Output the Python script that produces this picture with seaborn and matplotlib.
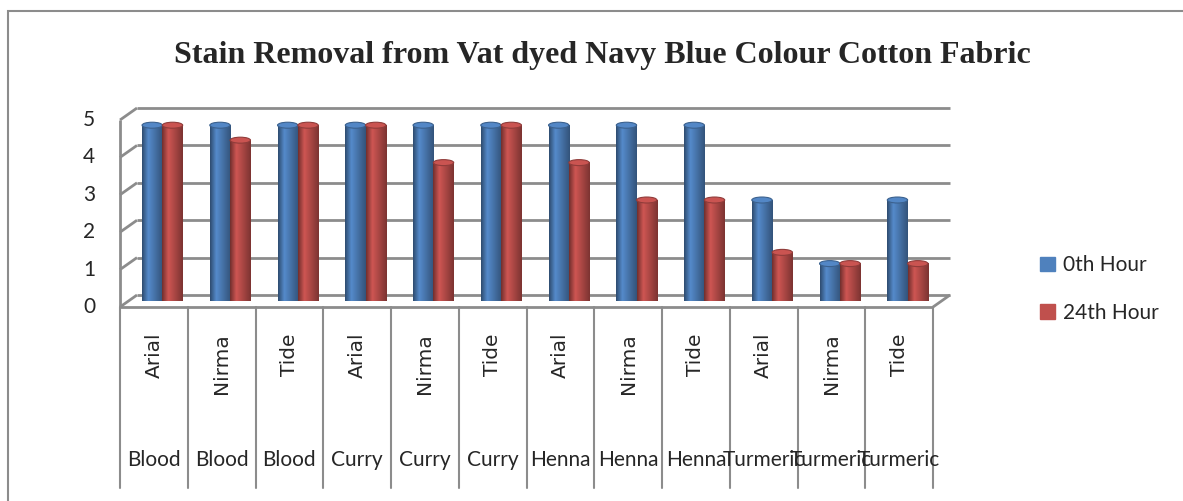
#!/usr/bin/env python3
"""
Stain removal chart - vat dyed navy blue cotton fabric.
Bar chart (Excel 3D cylinder look) of grades at 0th and 24th hour.
"""

import numpy as np
import pandas as pd
import matplotlib
matplotlib.use('Agg')
import matplotlib.pyplot as plt
from matplotlib.patches import Rectangle, Ellipse
import seaborn as sns

# data
stains = ['Blood', 'Blood', 'Blood', 'Curry', 'Curry', 'Curry',
          'Henna', 'Henna', 'Henna', 'Turmeric', 'Turmeric', 'Turmeric']
detergents = ['Arial', 'Nirma', 'Tide'] * 4
hour0 = [4.7, 4.7, 4.7, 4.7, 4.7, 4.7, 4.7, 4.7, 4.7, 2.7, 1.0, 2.7]
hour24 = [4.7, 4.3, 4.7, 4.7, 3.7, 4.7, 3.7, 2.7, 2.7, 1.3, 1.0, 1.0]
series = ['0th Hour', '24th Hour']
yticks = [0, 1, 2, 3, 4, 5]

BLUE = '#4F81BD'
RED = '#C0504D'
GRID = '#8C8C8C'

W, H, DPI = 1183, 501, 100
sns.set_style('white')
plt.rcParams['font.family'] = ['Lato', 'DejaVu Sans']

fig = plt.figure(figsize=(W / DPI, H / DPI), dpi=DPI)

# the axes is the middle depth plane of the fake 3D box
n = len(stains)
px_x = 813 / n          # pixels per category
px_y = 37.4             # pixels per unit
ax = fig.add_axes([128.5 / W, (H - 301) / H, 813 / W, 187 / H])
DX = 8.5 / px_x         # half depth in data units
DY = 6.0 / px_y

df = pd.DataFrame({
    'cat': list(range(n)) * 2,
    'value': hour0 + hour24,
    'hour': [series[0]] * n + [series[1]] * n,
})
labels = [f'{s}|{d}|{i}' for i, (s, d) in enumerate(zip(stains, detergents))]
df['label'] = [labels[i] for i in df['cat']]

sns.barplot(data=df, x='label', y='value', hue='hour', order=labels,
            palette=[BLUE, RED], width=0.6, gap=0, saturation=1,
            legend=False, ax=ax, zorder=3)

# cylinder shading and caps
shade = np.concatenate([np.linspace(0.6, 1.06, 10), np.linspace(1.06, 0.65, 22)])
for p in list(ax.patches):
    x0, w, h = p.get_x(), p.get_width(), p.get_height()
    if h <= 0:
        continue
    base = np.array(matplotlib.colors.to_rgb(p.get_facecolor()))
    rgb = np.clip(base[None, :] * shade[:, None], 0, 1)
    img = np.tile(rgb[None, :, :], (2, 1, 1))
    ax.imshow(img, extent=[x0, x0 + w, 0, h], aspect='auto', zorder=3.1,
              clip_path=p, clip_on=True)
    top = np.clip(base * 1.05, 0, 1)
    ax.add_patch(Ellipse((x0 + w / 2, h), w, 0.16, facecolor=top,
                         edgecolor=np.clip(base * 0.75, 0, 1), lw=0.8, zorder=3.2))
    p.set_edgecolor('none')

ax.set_xlim(-0.5, n - 0.5)
ax.set_ylim(0, 5)
ax.set_xticks([])
ax.set_yticks([])
ax.set_xlabel('')
ax.set_ylabel('')
for s in ax.spines.values():
    s.set_visible(False)

lk = dict(color=GRID, lw=2, clip_on=False, zorder=1, solid_capstyle='butt')
left, right = -0.5, n - 0.5
# back wall gridlines and left wall
for v in yticks:
    ax.plot([left + DX, right + DX], [v + DY, v + DY], **lk)
    ax.plot([left - DX, left + DX], [v - DY, v + DY], **lk)
    ax.text(left - DX - 25 / px_x, v - DY, str(v), ha='right', va='center',
            fontsize=15, clip_on=False)
ax.plot([left - DX, left - DX], [-DY, 5 - DY], **lk)
# floor front edge and right side
ax.plot([left - DX, right - DX], [-DY, -DY], **lk)
ax.plot([right - DX, right + DX], [-DY, DY], **lk)

# category table below the floor
bottom = -(488 - 301) / px_y
for k in range(n + 1):
    ax.plot([left + k - DX] * 2, [-DY, bottom],
            color=GRID, lw=1.5, clip_on=False, zorder=1)
for i in range(n):
    ax.text(i - DX, -(333 - 301) / px_y, detergents[i], rotation=90,
            ha='center', va='top', fontsize=14.5, family='DejaVu Sans',
            clip_on=False)
    ax.text(i - DX, -(460 - 301) / px_y, stains[i], ha='center',
            va='center', fontsize=15, clip_on=False)

# title
fig.text(602 / W, 1 - 56 / H,
         'Stain Removal from Vat dyed Navy Blue Colour Cotton Fabric',
         ha='center', va='center', fontsize=23, fontweight='bold',
         family='Liberation Serif')

# legend
handles = [Rectangle((0, 0), 1, 1, color=c) for c in (BLUE, RED)]
fig.legend(handles, series, loc='center left',
           bbox_to_anchor=(1030 / W, 1 - 289 / H), frameon=False,
           fontsize=15, handlelength=0.7, handleheight=0.7,
           handletextpad=0.4, labelspacing=1.3, borderpad=0)

# outer chart border
fig.add_artist(Rectangle((8 / W, -0.1), 1.2, (H - 11) / H + 0.1,
                         transform=fig.transFigure, fill=False,
                         edgecolor=GRID, lw=1.5))

plt.savefig('out.png', dpi=DPI)
